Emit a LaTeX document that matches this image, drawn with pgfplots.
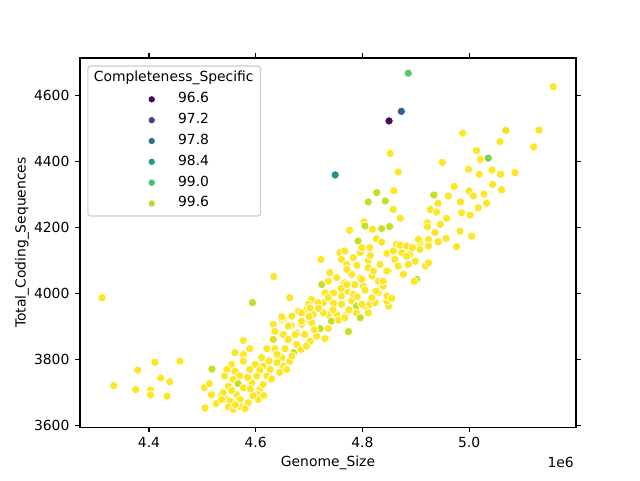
\documentclass[border=0pt]{standalone}
\usepackage{fontspec}
\setmainfont{DejaVu Sans}
\usepackage{pgfplots}
\usepackage{pgfplotstable}
\pgfplotsset{compat=1.18}

% viridis shades used by the legend entries
\definecolor{v966}{RGB}{70,8,92}
\definecolor{v972}{RGB}{65,68,135}
\definecolor{v978}{RGB}{45,112,142}
\definecolor{v984}{RGB}{31,154,138}
\definecolor{v990}{RGB}{72,193,110}
\definecolor{v996}{RGB}{178,221,45}
\definecolor{legframe}{RGB}{204,204,204}

% genome size (x 10^6), coding sequences, completeness
\pgfplotstableread{
x y c
4.312 3987 100
4.334 3720 100
4.379 3767 100
4.411 3791 100
4.458 3794 100
4.422 3743 100
4.439 3732 100
4.375 3708 100
4.403 3706 100
4.403 3692 100
4.434 3688 100
4.518 3770 99.7
4.504 3714 100
4.513 3726 100
4.517 3692 100
4.505 3652 100
4.526 3666 100
4.536 3693 100
4.546 3678 100
4.633 3906 100
4.650 3921 100
4.666 3903 100
4.686 3906 100
4.702 3916 100
4.721 3893 99.7
4.636 3885 100
4.652 3875 100
4.677 3880 100
4.692 3875 100
4.633 3860 99.8
4.661 3860 100
4.677 3845 100
4.702 3855 100
4.577 3857 100
4.589 3832 100
4.621 3832 100
4.636 3832 100
4.655 3832 100
4.671 3820 99.7
4.561 3820 100
4.577 3815 100
4.611 3805 100
4.649 3805 100
4.664 3794 100
4.577 3794 100
4.555 3784 100
4.599 3784 100
4.614 3779 100
4.652 3779 100
4.546 3769 100
4.561 3764 100
4.589 3769 100
4.608 3767 100
4.627 3769 100
4.658 3769 100
4.542 3749 100
4.558 3739 100
4.567 3726 99.7
4.593 3728 100
4.602 3749 100
4.621 3749 100
4.549 3718 100
4.577 3713 100
4.608 3708 100
4.614 3723 100
4.539 3698 100
4.564 3693 100
4.605 3693 100
4.552 3673 100
4.571 3678 100
4.571 3657 100
4.549 3655 100
4.586 3668 100
4.605 3678 100
4.536 3678 100
4.558 3648 100
4.562 3662 100
4.580 3650 100
4.595 3690 100
4.590 3710 100
4.555 3705 100
4.585 3745 100
4.570 3750 100
4.615 3690 100
4.630 3740 100
4.640 3790 100
4.645 3760 100
4.668 3810 100
4.685 3830 100
4.695 3840 100
4.640 3815 100
4.625 3795 100
4.727 3972 100
4.746 3970 100
4.761 3967 100
4.780 3977 100
4.789 3961 99.7
4.805 3961 100
4.814 3967 100
4.824 3972 100
4.849 3961 100
4.846 3977 100
4.736 3936 100
4.752 3936 100
4.768 3933 100
4.789 3941 100
4.796 3926 99.7
4.742 3916 99.7
4.755 3919 100
4.736 3893 100
4.730 3863 100
4.774 3884 99.7
4.722 4103 100
4.758 4124 100
4.767 4129 100
4.796 4124 100
4.761 4103 100
4.771 4088 100
4.783 4109 100
4.811 4100 100
4.846 4122 100
4.861 4103 100
4.874 4124 100
4.833 4088 100
4.849 4068 100
4.867 4083 100
4.877 4058 100
4.739 4063 100
4.752 4048 100
4.780 4058 100
4.796 4048 100
4.811 4078 100
4.818 4053 100
4.830 4037 100
4.724 4027 99.7
4.736 4037 100
4.767 4032 100
4.786 4027 100
4.802 4022 100
4.839 4022 100
4.730 4002 100
4.746 4002 100
4.771 4007 100
4.783 3997 100
4.830 4002 100
4.846 3992 100
4.664 3987 100
4.705 3982 100
4.717 3972 100
4.736 3987 100
4.799 3967 100
4.680 3946 100
4.696 3951 100
4.708 3936 100
4.727 3941 100
4.767 3926 100
4.811 3941 100
4.652 3926 100
4.668 3931 100
4.686 3916 100
4.705 3911 100
4.661 3901 100
4.674 3875 100
4.714 3870 100
4.710 3890 100
4.700 3930 100
4.718 3955 100
4.745 3950 100
4.775 3950 100
4.790 3990 100
4.805 4010 100
4.760 4015 100
4.815 4115 100
4.790 4085 100
4.776 4192 100
4.634 4051 100
4.594 3972 99.7
4.649 3929 100
4.699 3967 100
4.686 3941 100
4.702 3956 100
4.811 4278 99.7
4.843 4281 99.7
4.858 4255 100
4.871 4228 100
4.927 4255 100
4.942 4274 100
4.939 4247 100
4.958 4228 100
4.922 4215 100
4.946 4210 100
4.922 4202 100
4.803 4217 100
4.805 4205 99.7
4.819 4195 100
4.836 4197 99.7
4.851 4203 99.7
4.936 4185 100
4.957 4167 100
4.924 4164 100
4.942 4157 100
4.826 4166 100
4.836 4156 100
4.792 4159 99.7
4.799 4139 100
4.814 4139 100
4.864 4149 100
4.871 4147 100
4.883 4144 100
4.908 4154 100
4.905 4164 100
4.858 4129 100
4.889 4119 100
4.894 4139 100
4.908 4134 100
4.924 4144 100
4.883 4113 100
4.899 4098 100
4.886 4088 100
4.918 4083 100
4.924 4093 100
4.771 4073 100
4.821 4068 100
4.846 4068 100
4.902 4043 99.7
4.897 4037 100
4.799 4043 100
4.839 4037 100
4.826 4007 100
4.818 3987 100
4.761 3992 100
4.771 4027 100
4.855 3985 100
4.984 4278 100
4.986 4245 100
5.002 4238 100
5.017 4260 100
5.033 4274 100
4.983 4189 100
5.005 4174 100
4.977 4142 100
4.886 4669 99.1
4.873 4553 97.6
4.850 4524 96.6
5.158 4628 100
4.988 4487 100
5.069 4495 99.9
5.131 4496 100
5.058 4461 100
5.121 4445 100
4.852 4425 100
5.014 4434 100
5.021 4407 100
5.036 4411 99.3
4.950 4398 100
4.867 4369 100
4.999 4377 100
5.019 4362 100
5.043 4375 100
5.059 4362 100
5.086 4367 100
4.972 4325 100
5.044 4331 100
5.061 4315 100
5.000 4311 100
5.008 4296 100
5.028 4302 100
4.961 4296 100
4.749 4360 98.3
4.827 4306 99.7
4.859 4312 100
4.934 4299 99.7
}\genomes

\begin{document}
\begin{tikzpicture}
\useasboundingbox (-57.6pt,-38.2pt) rectangle (403.2pt,307.5pt);
\begin{axis}[
  name=ax,
  at={(0,0)}, anchor=south west,
  scale only axis, width=357.1pt, height=265.7pt,
  xmin=4.2707, xmax=5.2004, ymin=3594, ymax=4715,
  xtick={4.4,4.6,4.8,5.0}, ytick={3600,3800,...,4600},
  tick align=outside, major tick length=3.5pt,
  tick style={black, line width=0.8pt},
  axis line style={line width=0.8pt},
  /pgf/number format/assume math mode=true,
  scaled x ticks=false,
  xticklabel style={/pgf/number format/fixed, /pgf/number format/fixed zerofill,
    /pgf/number format/precision=1, yshift=-0.6pt},
  yticklabel style={/pgf/number format/1000 sep={}, xshift=-0.6pt},
  xlabel={Genome\_Size}, ylabel={Total\_Coding\_Sequences},
  xlabel style={at={(axis description cs:0.5,-0.0976)}, anchor=center},
  ylabel style={at={(axis description cs:-0.117,0.5)}, anchor=center},
  colormap/viridis, point meta min=96.5, point meta max=100,
  legend image code/.code={\path[draw=none] (-43pt,0pt) (17pt,0pt); \draw[#1] plot coordinates {(0pt,0pt)};},
  legend style={at={(axis description cs:0.0147,0.980)}, anchor=north west,
    draw=legframe, rounded corners=2pt, line width=0.8pt,
    inner xsep=3pt, inner ysep=2pt, row sep=1pt,
    nodes={inner sep=2pt, text height=7.5pt, text depth=2.5pt},
    cells={anchor=west}},
]
\addplot[scatter, only marks, mark=*, mark size=3pt, point meta=explicit,
  scatter/use mapped color={draw=white, fill=mapped color},
  mark options={line width=0.5pt}, forget plot]
  table[x=x, y=y, meta=c] {\genomes};

\addlegendimage{empty legend}
\addlegendentry{\hspace{-60.7pt}Completeness\_Specific}
\addlegendimage{only marks, mark=*, mark size=2.6pt, mark options={draw=white, fill=v966, line width=0.4pt}}
\addlegendentry{96.6}
\addlegendimage{only marks, mark=*, mark size=2.6pt, mark options={draw=white, fill=v972, line width=0.4pt}}
\addlegendentry{97.2}
\addlegendimage{only marks, mark=*, mark size=2.6pt, mark options={draw=white, fill=v978, line width=0.4pt}}
\addlegendentry{97.8}
\addlegendimage{only marks, mark=*, mark size=2.6pt, mark options={draw=white, fill=v984, line width=0.4pt}}
\addlegendentry{98.4}
\addlegendimage{only marks, mark=*, mark size=2.6pt, mark options={draw=white, fill=v990, line width=0.4pt}}
\addlegendentry{99.0}
\addlegendimage{only marks, mark=*, mark size=2.6pt, mark options={draw=white, fill=v996, line width=0.4pt}}
\addlegendentry{99.6}
\end{axis}
\node[anchor=north east, inner sep=0pt] at ([xshift=-1.4pt,yshift=-21.3pt]ax.south east) {1e6};
\end{tikzpicture}
\end{document}
